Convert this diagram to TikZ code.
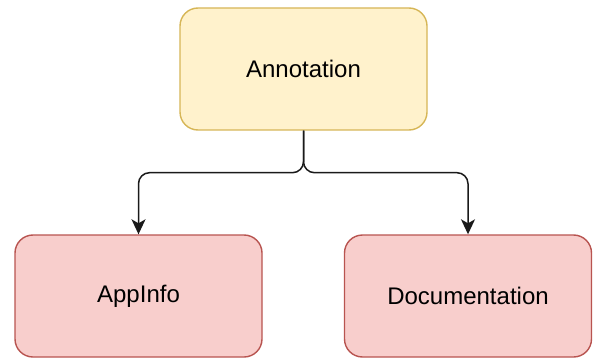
\documentclass[tikz,border=0pt]{standalone}
\usepackage{fontspec}
\setmainfont{Liberation Sans}
\usetikzlibrary{arrows.meta}
\definecolor{yfill}{HTML}{FFF2CC}
\definecolor{ydraw}{HTML}{D6B656}
\definecolor{rfill}{HTML}{F8CECC}
\definecolor{rdraw}{HTML}{B85450}
\definecolor{edgecol}{HTML}{1A1A1A}
\begin{document}
\begin{tikzpicture}[x=1pt,y=-1pt,
  box/.style={rectangle, rounded corners=18pt, line width=1.4pt, minimum height=122pt, inner sep=0pt, font=\fontsize{24}{28}\selectfont},
  yellowbox/.style={box, fill=yfill, draw=ydraw, minimum width=247pt},
  redbox/.style={box, fill=rfill, draw=rdraw, minimum width=247pt},
  conn/.style={draw=edgecol, line width=1.5pt, rounded corners=11pt, -{Stealth[length=15pt,width=14pt,inset=4pt]}}
]
\useasboundingbox (0,0) rectangle (593,358);
\node[yellowbox] (ann) at (303.5,69) {Annotation};
\node[redbox] (app) at (138.5,296) {AppInfo};
\node[redbox] (doc) at (468,296) {Documentation};
\path[conn] (ann.south) -- ++(0,42) -| (app.north);
\path[conn] (ann.south) -- ++(0,42) -| (doc.north);
\end{tikzpicture}
\end{document}
